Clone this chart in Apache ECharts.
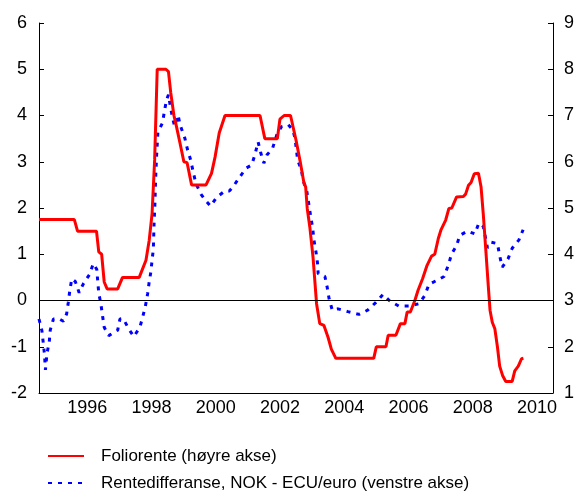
<!DOCTYPE html>
<html>
<head>
<meta charset="utf-8">
<script src="https://cdn.jsdelivr.net/npm/echarts@6/dist/echarts.min.js"></script>
<style>
  html, body {margin: 0; padding: 0; background: #fff;}
  #chart {width: 577px; height: 492px;}
</style>
</head>
<body>
<div id="chart"></div>
<script>
// år som kategorier på x-aksen (etiketter midt i året)
const years = ['1995', '1996', '1997', '1998', '1999', '2000', '2001', '2002',
  '2003', '2004', '2005', '2006', '2007', '2008', '2009', '2010']

// Foliorente, høyre akse (prosent), tid i desimalår
const foliDates = [1995.0, 1996.10, 1996.2, 1996.79, 1996.86, 1996.95, 1997.03, 1997.12, 1997.45, 1997.6,
  1998.12, 1998.33, 1998.43, 1998.52, 1998.6, 1998.68, 1998.95, 1999.03, 1999.1, 1999.2,
  1999.28, 1999.39, 1999.51, 1999.61, 1999.75, 2000.2, 2000.37, 2000.48, 2000.61, 2000.79,
  2001.88, 2002.03, 2002.42, 2002.5, 2002.63, 2002.83, 2003.0, 2003.14, 2003.25, 2003.3,
  2003.35, 2003.43, 2003.53, 2003.64, 2003.74, 2003.87, 2004.0, 2004.1, 2004.24, 2005.42,
  2005.5, 2005.8, 2005.87, 2006.11, 2006.25, 2006.39, 2006.46, 2006.56, 2006.7, 2006.8,
  2006.94, 2007.08, 2007.22, 2007.32, 2007.43, 2007.51, 2007.66, 2007.76, 2007.85, 2008.0,
  2008.21, 2008.28, 2008.37, 2008.45, 2008.55, 2008.68, 2008.76, 2008.83, 2008.91, 2008.98,
  2009.04, 2009.11, 2009.19, 2009.27, 2009.34, 2009.43, 2009.53, 2009.73, 2009.81, 2009.92,
  2010.02, 2010.08]
const foliValues = [4.75, 4.75, 4.5, 4.5, 4.05, 4.0, 3.4, 3.25, 3.25, 3.5,
  3.5, 3.87, 4.3, 4.88, 6.04, 8.0, 8.0, 7.95, 7.5, 7.0,
  6.76, 6.4, 6.0, 5.98, 5.5, 5.5, 5.75, 6.1, 6.62, 7.0,
  7.0, 6.5, 6.5, 6.92, 7.0, 7.0, 6.47, 5.97, 5.53, 5.46,
  4.99, 4.59, 3.94, 2.93, 2.5, 2.46, 2.2, 1.95, 1.75, 1.75,
  2.0, 2.0, 2.25, 2.25, 2.5, 2.5, 2.75, 2.75, 3.0, 3.22,
  3.47, 3.76, 3.96, 4.0, 4.34, 4.52, 4.74, 4.99, 5.0, 5.24,
  5.25, 5.3, 5.49, 5.55, 5.74, 5.75, 5.46, 4.87, 4.08, 3.37,
  2.79, 2.53, 2.39, 2.0, 1.58, 1.38, 1.25, 1.25, 1.48, 1.58,
  1.74, 1.75]

// Rentedifferanse NOK - ECU/euro, venstre akse
const diffDates = [1995.0, 1995.09, 1995.13, 1995.17, 1995.2, 1995.25, 1995.32, 1995.35, 1995.45, 1995.63,
  1995.76, 1995.86, 1995.91, 1995.96, 1996.02, 1996.13, 1996.25, 1996.38, 1996.57, 1996.69,
  1996.8, 1996.83, 1996.86, 1996.93, 1996.98, 1997.03, 1997.17, 1997.45, 1997.52, 1997.62,
  1997.79, 1997.95, 1998.14, 1998.23, 1998.31, 1998.38, 1998.43, 1998.48, 1998.52, 1998.56,
  1998.58, 1998.61, 1998.63, 1998.66, 1998.7, 1998.85, 1998.9, 1998.97, 1999.03, 1999.09,
  1999.16, 1999.22, 1999.33, 1999.39, 1999.54, 1999.62, 1999.72, 1999.8, 1999.88, 2000.04,
  2000.2, 2000.34, 2000.53, 2000.79, 2000.93, 2001.07, 2001.23, 2001.44, 2001.62, 2001.72,
  2001.82, 2001.9, 2002.0, 2002.1, 2002.27, 2002.42, 2002.55, 2002.76, 2002.9, 2002.97,
  2003.05, 2003.17, 2003.22, 2003.33, 2003.4, 2003.46, 2003.52, 2003.56, 2003.62, 2003.67,
  2003.69, 2003.9, 2003.97, 2004.03, 2004.13, 2004.31, 2004.62, 2004.96, 2005.23, 2005.49,
  2005.71, 2005.92, 2006.2, 2006.52, 2006.83, 2007.01, 2007.14, 2007.37, 2007.61, 2007.74,
  2007.84, 2008.0, 2008.1, 2008.34, 2008.57, 2008.69, 2008.83, 2008.96, 2009.08, 2009.27,
  2009.34, 2009.42, 2009.6, 2009.73, 2009.94, 2010.07]
const diffValues = [-0.4, -0.65, -0.9, -1.16, -1.5, -1.14, -0.89, -0.64, -0.4, -0.4,
  -0.45, -0.29, -0.05, 0.22, 0.47, 0.41, 0.17, 0.36, 0.56, 0.8,
  0.67, 0.4, 0.16, -0.09, -0.34, -0.58, -0.76, -0.64, -0.4, -0.39,
  -0.61, -0.78, -0.58, -0.35, -0.13, 0.14, 0.4, 0.61, 0.87, 1.12,
  1.63, 2.13, 2.64, 3.12, 3.63, 3.85, 4.08, 4.34, 4.45, 4.19,
  3.94, 3.77, 4.01, 3.8, 3.51, 3.27, 3.04, 2.78, 2.54, 2.3,
  2.15, 2.04, 2.23, 2.37, 2.37, 2.49, 2.65, 2.86, 2.93, 3.15,
  3.43, 3.2, 2.97, 3.15, 3.29, 3.62, 3.76, 3.8, 3.69, 3.51,
  3.04, 2.82, 2.6, 2.39, 2.08, 1.81, 1.56, 1.3, 1.06, 0.81,
  0.58, 0.52, 0.29, 0.04, -0.21, -0.18, -0.24, -0.3, -0.21, -0.04,
  0.13, -0.01, -0.12, -0.12, -0.07, 0.11, 0.35, 0.43, 0.52, 0.76,
  1.0, 1.19, 1.41, 1.5, 1.44, 1.67, 1.6, 1.14, 1.26, 1.23,
  0.97, 0.72, 0.9, 1.13, 1.31, 1.53]

const FOLIO_NAME = 'Foliorente (høyre akse)'
const DIFF_NAME = 'Rentedifferanse, NOK - ECU/euro (venstre akse)'

const FONT = 'Liberation Sans, Arial, sans-serif'

const axisLabelStyle = {
  color: '#000',
  fontFamily: FONT,
  fontSize: 18
}

// én legende per linje, stablet under hverandre
function legendAt(name, top) {
  return {
    data: [name],
    left: 47,
    top: top,
    padding: 0,
    itemWidth: 36,
    itemHeight: 14,
    itemStyle: {opacity: 0},
    selectedMode: false,
    textStyle: {
      color: '#000',
      fontFamily: FONT,
      fontSize: 17,
      lineHeight: 20,
      padding: [0, 0, 0, 12]
    }
  }
}

const chart = echarts.init(document.getElementById('chart'), null, {renderer: 'canvas'})

const option = {
  animation: false,
  backgroundColor: '#fff',
  grid: {
    left: 39,
    right: 24,
    top: 23,
    bottom: 99
  },
  legend: [
    legendAt(FOLIO_NAME, 446),
    legendAt(DIFF_NAME, 473)
  ],
  xAxis: [
    {
      // tidsakse for dataene
      type: 'value',
      min: 1995,
      max: 2011,
      show: false
    },
    {
      // årsetiketter og -streker
      type: 'category',
      data: years,
      position: 'bottom',
      boundaryGap: true,
      axisLine: {lineStyle: {color: '#000', width: 1}},
      axisTick: {inside: true, length: 5, interval: 0, lineStyle: {color: '#000'}},
      axisLabel: {
        ...axisLabelStyle,
        margin: 6,
        interval: (index, value) => Number(value) % 2 === 0
      },
      splitLine: {show: false}
    }
  ],
  yAxis: [
    {
      type: 'value',
      position: 'left',
      min: -2,
      max: 6,
      interval: 1,
      axisLine: {show: true, lineStyle: {color: '#000', width: 1}},
      axisTick: {show: true, inside: true, length: 5, lineStyle: {color: '#000'}},
      axisLabel: {...axisLabelStyle, margin: 12},
      splitLine: {show: false}
    },
    {
      type: 'value',
      position: 'right',
      min: 1,
      max: 9,
      interval: 1,
      axisLine: {show: true, lineStyle: {color: '#000', width: 1}},
      axisTick: {show: true, inside: true, length: 5, lineStyle: {color: '#000'}},
      axisLabel: {...axisLabelStyle, margin: 11},
      splitLine: {show: false}
    }
  ],
  series: [
    {
      name: DIFF_NAME,
      type: 'line',
      xAxisIndex: 0,
      yAxisIndex: 0,
      symbol: 'none',
      color: '#0000FF',
      lineStyle: {color: '#0000FF', width: 3, type: [4, 6]},
      data: diffDates.map((d, i) => [d, diffValues[i]]),
      markLine: {
        silent: true,
        symbol: ['none', 'none'],
        label: {show: false},
        lineStyle: {color: '#000', width: 1, type: 'solid'},
        data: [{yAxis: 0}]
      },
      z: 2
    },
    {
      name: FOLIO_NAME,
      type: 'line',
      xAxisIndex: 0,
      yAxisIndex: 1,
      symbol: 'none',
      color: '#FF0000',
      lineStyle: {color: '#FF0000', width: 3},
      data: foliDates.map((d, i) => [d, foliValues[i]]),
      z: 3
    }
  ]
}

chart.setOption(option)
</script>
</body>
</html>
